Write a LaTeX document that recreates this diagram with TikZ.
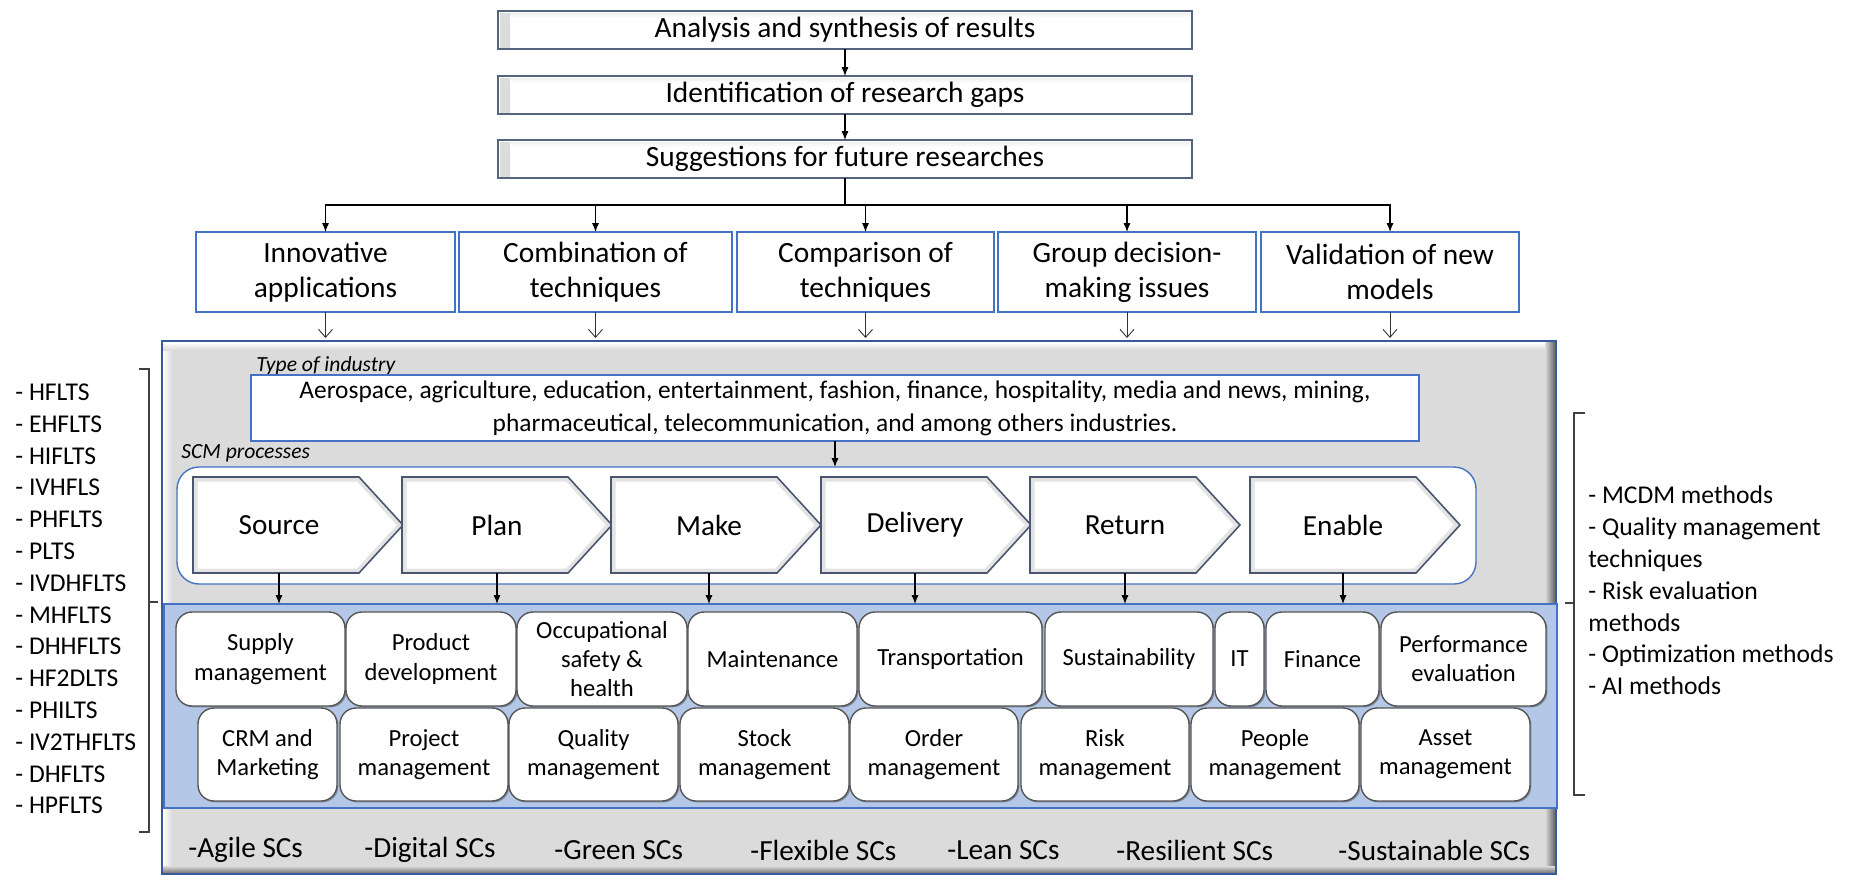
\documentclass[tikz,border=0pt]{standalone}
\usepackage{fontspec}
\setmainfont{Carlito}
\usetikzlibrary{arrows.meta,calc,shadows}
\definecolor{slate}{HTML}{55647E}
\definecolor{procline}{HTML}{4A5670}
\definecolor{bblue}{HTML}{4472C4}
\definecolor{bandfill}{HTML}{B4C7E7}
\definecolor{grayfill}{HTML}{DBDBDB}
\definecolor{rline}{HTML}{555555}
\newcommand\PlaceBox[7]{%
  \pgfmathsetmacro\bw{(#5-#3)/2}%
  \pgfmathsetmacro\bh{(#6-#4)/2}%
  \node[#1,minimum width=\bw pt,minimum height=\bh pt] (#2) at ({(#3+#5)/2},{(#4+#6)/2}) {#7};}
\newcommand\ProcShape[4]{%
  \fill[white] (#1,477) -- ({#1+166},477) -- ({#1+210},525) -- ({#1+166},573) -- (#1,573) -- cycle;
  \draw[gray!22, line width=2pt] ({#1+2.5},479.5) -- ({#1+165},479.5) -- ({#1+206.5},525) -- ({#1+165},570.5) -- ({#1+2.5},570.5) -- cycle;
  \draw[procline, line width=0.8pt, line join=miter] (#1,477) -- ({#1+166},477) -- ({#1+210},525) -- ({#1+166},573) -- (#1,573) -- cycle;
  \node[proclabel] (#2) at (#3,525) {#4};}
\begin{document}
\begin{tikzpicture}[x=0.5pt,y=-0.5pt,
  tbox/.style={draw=slate,line width=1pt,fill=white,inner sep=0pt,outer sep=0pt,font=\fontsize{14.7}{17}\selectfont,
    path picture={
      \fill[left color=gray!28,right color=white] ([shift={(1pt,-1pt)}]path picture bounding box.north west) rectangle ([shift={(6pt,1pt)}]path picture bounding box.south west);
      \fill[top color=gray!12,bottom color=white] ([shift={(6pt,-1pt)}]path picture bounding box.north west) rectangle ([shift={(-1pt,-3.5pt)}]path picture bounding box.north east);
    }},
  sbox/.style={draw=bblue,line width=0.7pt,fill=white,inner sep=0pt,outer sep=0pt,align=center,font=\fontsize{14.7}{17.5}\selectfont},
  indbox/.style={draw=bblue,line width=0.7pt,fill=white,inner sep=0pt,outer sep=0pt,align=center,font=\fontsize{12.7}{16.5}\selectfont},
  contbox/.style={draw=bblue,line width=0.7pt,fill=white,rounded corners=11pt,inner sep=0pt,outer sep=0pt},
  graybox/.style={draw=bblue!80!black,line width=0.6pt,fill=grayfill,inner sep=0pt,outer sep=0pt},
  bandbox/.style={draw=bblue,line width=0.7pt,fill=bandfill,inner sep=0pt,outer sep=0pt},
  rbox/.style={draw=rline,line width=0.7pt,fill=white,rounded corners=8pt,inner sep=0pt,outer sep=0pt,align=center,
    font=\fontsize{12.3}{14.6}\selectfont,
    drop shadow={shadow xshift=0.7pt,shadow yshift=-0.7pt,opacity=0.3,fill=black}},
  proclabel/.style={inner sep=0pt,font=\fontsize{14.6}{17}\selectfont},
  ital/.style={inner sep=0pt,font=\fontsize{10.8}{13}\selectfont\itshape},
  bottxt/.style={inner sep=0pt,anchor=west,font=\fontsize{14.6}{17}\selectfont},
  listtxt/.style={inner sep=0pt,align=left,font=\fontsize{12.8}{15.9}\selectfont},
  arr/.style={-{Latex[length=4.5pt,width=3.6pt]},line width=0.6pt,black},
  openarr/.style={-{Straight Barb[length=4pt,width=7pt]},line width=0.45pt,black!80},
  brack/.style={line width=0.6pt,black!75}]
\useasboundingbox (0,0) rectangle (1858,875);

% top chain
\PlaceBox{tbox}{t1}{498}{11}{1192}{49}{Analysis and synthesis of results}
\PlaceBox{tbox}{t2}{498}{76}{1192}{114}{Identification of research gaps}
\PlaceBox{tbox}{t3}{498}{140}{1192}{178}{Suggestions for future researches}
\draw[arr] (t1) -- (t2);
\draw[arr] (t2) -- (t3);

% suggestion boxes
\PlaceBox{sbox}{s1}{196}{232}{455}{312}{Innovative\\applications}
\PlaceBox{sbox}{s2}{459}{232}{732}{312}{Combination of\\techniques}
\PlaceBox{sbox}{s3}{737}{232}{994}{312}{Comparison of\\techniques}
\PlaceBox{sbox}{s4}{998}{232}{1256}{312}{Group decision-\\making issues}
\PlaceBox{sbox}{s5}{1261}{232}{1519}{312}{Validation of new\\models}
\coordinate (hub) at (845,205);
\draw[line width=0.6pt] (t3.south) -- (hub);
\foreach \n in {s1,s2,s3,s4,s5}{\draw[arr] (hub) -| (\n.north);}

% big gray box
\PlaceBox{graybox}{gray}{162}{341}{1556}{874}{}
\fill[left color=white,right color=grayfill] (163,342) rectangle (172,873);
\fill[top color=white,bottom color=grayfill] (163,342) rectangle (1555,350);
\fill[left color=grayfill,right color=black!65] (1545,342) rectangle (1556,874);
\fill[top color=grayfill,bottom color=black!60] (163,866) rectangle (1556,874);
\draw[bblue!80!black,line width=0.6pt] (gray.north west) rectangle (gray.south east);
\coordinate (gtop) at (0,338);
\foreach \n in {s1,s2,s3,s4,s5}{\draw[openarr] (\n.south) -- (\n.south |- gtop);}

% industry
\node[ital,anchor=west] (toi) at (256,366) {Type of industry};
\PlaceBox{indbox}{ind}{251}{375}{1419}{441}{Aerospace, agriculture, education, entertainment, fashion, finance, hospitality, media and news, mining,\\pharmaceutical, telecommunication, and among others industries.}

% SCM processes
\node[ital,anchor=west] (scmp) at (181,453) {SCM processes};
\PlaceBox{contbox}{cont}{177}{467}{1476}{584}{}
\draw[arr] (ind.south) -- (ind.south |- cont.north);
\ProcShape{193}{p1}{279}{Source}
\ProcShape{402}{p2}{497}{Plan}
\ProcShape{611}{p3}{709}{Make}
\ProcShape{821}{p4}{915}{Delivery}
\ProcShape{1030}{p5}{1125}{Return}
\ProcShape{1250}{p6}{1343}{Enable}

% blue band
\PlaceBox{bandbox}{band}{164}{604}{1557}{808}{}
\coordinate (pbot) at (0,573);
\foreach \n in {p1,p2,p3,p4,p5,p6}{\draw[arr] (\n |- pbot) -- (\n |- band.north);}

% row 1
\PlaceBox{rbox}{r1}{176}{612}{345}{706}{Supply\\management}
\PlaceBox{rbox}{r2}{346}{612}{516}{706}{Product\\development}
\PlaceBox{rbox}{r3}{517}{612}{687}{706}{Occupational\\safety \&\\health}
\PlaceBox{rbox}{r4}{688}{612}{857}{706}{Maintenance}
\PlaceBox{rbox}{r5}{859}{612}{1042}{706}{Transportation}
\PlaceBox{rbox}{r6}{1045}{612}{1213}{706}{Sustainability}
\PlaceBox{rbox}{r7}{1215}{612}{1264}{706}{IT}
\PlaceBox{rbox}{r8}{1266}{612}{1379}{706}{Finance}
\PlaceBox{rbox}{r9}{1381}{612}{1546}{706}{Performance\\evaluation}
% row 2
\PlaceBox{rbox}{q1}{198}{708}{337}{801}{CRM and\\Marketing}
\PlaceBox{rbox}{q2}{340}{708}{508}{801}{Project\\management}
\PlaceBox{rbox}{q3}{509}{708}{678}{801}{Quality\\management}
\PlaceBox{rbox}{q4}{680}{708}{849}{801}{Stock\\management}
\PlaceBox{rbox}{q5}{850}{708}{1018}{801}{Order\\management}
\PlaceBox{rbox}{q6}{1021}{708}{1189}{801}{Risk\\management}
\PlaceBox{rbox}{q7}{1191}{708}{1359}{801}{People\\management}
\PlaceBox{rbox}{q8}{1361}{708}{1530}{801}{Asset\\management}

% bottom labels
\node[bottxt] (b1) at (188,850) {-Agile SCs};
\node[bottxt] (b2) at (364,850) {-Digital SCs};
\node[bottxt] (b3) at (554,850) {-Green SCs};
\node[bottxt] (b4) at (750,850) {-Flexible SCs};
\node[bottxt] (b5) at (947,850) {-Lean SCs};
\node[bottxt] (b6) at (1116,850) {-Resilient SCs};
\node[bottxt] (b7) at (1338,850) {-Sustainable SCs};

% left list and bracket
\node[listtxt,anchor=west] (llist) at (15,599) {- HFLTS\\- EHFLTS\\- HIFLTS\\- IVHFLS\\- PHFLTS\\- PLTS\\- IVDHFLTS\\- MHFLTS\\- DHHFLTS\\- HF2DLTS\\- PHILTS\\- IV2THFLTS\\- DHFLTS\\- HPFLTS};
\draw[brack] (139,369) -- (149,369) -- (149,832) -- (139,832);
\draw[brack] (149,602) -- (158,602);

% right list and bracket
\node[listtxt,anchor=west] (rlist) at (1588,590.5) {- MCDM methods\\- Quality management\\techniques\\- Risk evaluation\\methods\\- Optimization methods\\- AI methods};
\draw[brack] (1585,413) -- (1574,413) -- (1574,795) -- (1585,795);
\draw[brack] (1574,603) -- (1565,603);
\end{tikzpicture}
\end{document}
